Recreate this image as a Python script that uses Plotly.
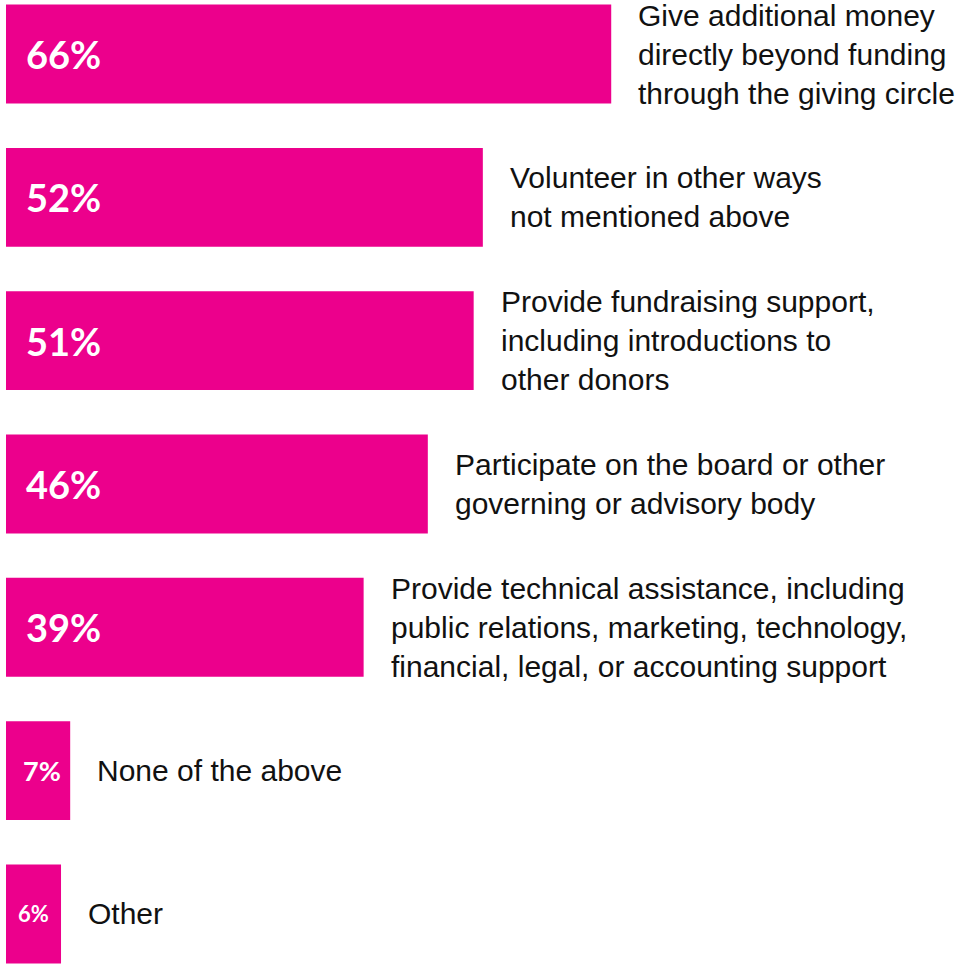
import plotly.graph_objects as go

categories = [
    "Give additional money<br>directly beyond funding<br>through the giving circle",
    "Volunteer in other ways<br>not mentioned above",
    "Provide fundraising support,<br>including introductions to<br>other donors",
    "Participate on the board or other<br>governing or advisory body",
    "Provide technical assistance, including<br>public relations, marketing, technology,<br>financial, legal, or accounting support",
    "None of the above",
    "Other",
]
values = [66, 52, 51, 46, 39, 7, 6]
value_labels = ["66%", "52%", "51%", "46%", "39%", "7%", "6%"]

PINK = "#EC008C"
W, H = 961, 964
px_per_unit = 9.17
left_px = 6
x0 = -left_px / px_per_unit
x1 = x0 + W / px_per_unit

step = 143.33
first_center = 54
y_top = -first_center / step
y_bot = (H - first_center) / step

idx = list(range(len(values)))

fig = go.Figure(go.Bar(
    x=values, y=idx, orientation="h",
    marker=dict(color=PINK, line=dict(width=0)),
    width=0.69, hoverinfo="skip",
))

small_sizes = {7: 27, 6: 22}
annotations = []
for i, (v, lab, cat) in enumerate(zip(values, value_labels, categories)):
    big = v >= 20
    if big:
        annotations.append(dict(
            x=0, y=i, xref="x", yref="y", text=f"<b>{lab}</b>", showarrow=False,
            xanchor="left", yanchor="middle", xshift=18,
            font=dict(family="Lato", size=38, color="white"),
        ))
    else:
        annotations.append(dict(
            x=v / 2, y=i, xref="x", yref="y", text=f"<b>{lab}</b>", showarrow=False,
            xanchor="center", yanchor="middle", xshift=4 if v == 7 else 0,
            font=dict(family="Lato", size=small_sizes.get(v, 22), color="white"),
        ))
    annotations.append(dict(
        x=v, y=i, xref="x", yref="y", text=cat, showarrow=False,
        xanchor="left", yanchor="middle", align="left", xshift=25,
        font=dict(family="Liberation Sans", size=30, color="#111111"),
    ))

fig.update_layout(
    width=W, height=H,
    margin=dict(l=0, r=0, t=0, b=0),
    paper_bgcolor="white", plot_bgcolor="white",
    showlegend=False,
    xaxis=dict(range=[x0, x1], visible=False, fixedrange=True),
    yaxis=dict(range=[y_bot, y_top], visible=False, fixedrange=True),
    annotations=annotations,
)

fig.write_html(
    "out.html",
    config={"displayModeBar": False},
    post_script="document.body.style.margin='0';document.body.style.padding='0';",
)
